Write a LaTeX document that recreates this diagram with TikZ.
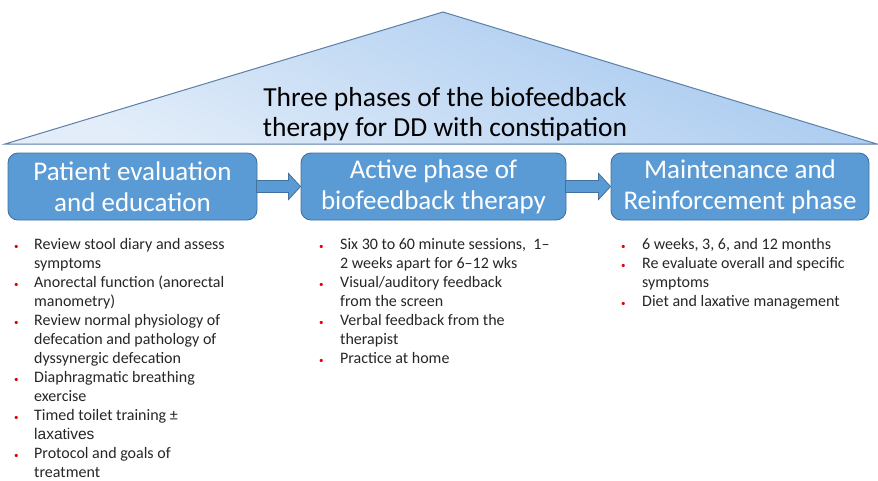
\documentclass[tikz,border=0pt]{standalone}
\usepackage{fontspec}
\setmainfont{Carlito}
\newfontfamily\arialfont{Liberation Sans}
\usetikzlibrary{calc}

\definecolor{phaseblue}{HTML}{5B9BD5}
\definecolor{phaseedge}{HTML}{41719C}
\definecolor{roofedge}{HTML}{5B7FA6}
\definecolor{rooftop}{HTML}{A4C7EF}
\definecolor{roofbottom}{HTML}{E2EDF9}
\definecolor{bulletred}{HTML}{E00000}
\definecolor{bodytext}{HTML}{262626}

\newcommand\bul{\textcolor{bulletred}{\small\textbullet}}

\tikzset{
  phase/.style={draw=phaseedge, line width=0.9pt, fill=phaseblue, rounded corners=10pt,
    minimum height=67pt, text=white, align=center,
    font=\fontsize{27}{31}\selectfont},
  points/.style={inner sep=0pt, anchor=base west, text=bodytext,
    font=\fontsize{16}{19}\selectfont},
  flow/.style={draw=phaseedge, line width=0.8pt, fill=phaseblue}
}

\begin{document}
\begin{tikzpicture}[x=1pt,y=-1pt]
  \useasboundingbox (0,0) rectangle (878,480);

  % Roof with the title
  \coordinate (roofL) at (5,144);
  \coordinate (roofT) at (443,12);
  \coordinate (roofR) at (877,144);
  \draw[draw=roofedge, line width=1pt, top color=rooftop, bottom color=roofbottom,
        shading angle=-25] (roofL) -- (roofT) -- (roofR) -- cycle;
  \node[align=center, font=\fontsize{27.5}{30}\selectfont] (title) at (445,114)
    {Three phases of the biofeedback\\therapy for DD with constipation};

  % The three phases
  \node[phase, minimum width=249pt] (evaluation) at (132.5,186.5)
    {Patient evaluation\\and education};
  \node[phase, minimum width=265pt] (active) at (433.5,186.5)
    {Active phase of\\biofeedback therapy};
  \node[phase, minimum width=258pt] (maintenance) at (740,186.5)
    {Maintenance and\\Reinforcement phase};

  % Block arrows between phases
  \foreach \a/\b in {evaluation/active, active/maintenance} {
    \draw[flow] ($(\a.east)+(-1,-6)$) -- ($(\b.west)+(-12,-6)$)
      -- ($(\b.west)+(-12,-13)$) -- (\b.west) -- ($(\b.west)+(-12,13)$)
      -- ($(\b.west)+(-12,6)$) -- ($(\a.east)+(-1,6)$) -- cycle;
  }

  % What happens in each phase
  \node[points] (evalpoints) at (14,249) {%
    \begin{tabular}[t]{@{}p{20pt}@{}l@{}}
      \bul & Review stool diary and assess\\
           & symptoms\\
      \bul & Anorectal function (anorectal\\
           & manometry)\\
      \bul & Review normal physiology of\\
           & defecation and pathology of\\
           & dyssynergic defecation\\
      \bul & Diaphragmatic breathing\\
           & exercise\\
      \bul & Timed toilet training \textpm\\
           & {\arialfont\fontsize{15.5}{19}\selectfont laxatives}\\
      \bul & Protocol and goals of\\
           & treatment
    \end{tabular}};
  \node[points] (activepoints) at (319,249) {%
    \begin{tabular}[t]{@{}p{21pt}@{}l@{}}
      \bul & Six 30 to 60 minute sessions,\ \ 1--\\
           & 2 weeks apart for 6--12 wks\\
      \bul & Visual/auditory feedback\\
           & from the screen\\
      \bul & Verbal feedback from the\\
           & therapist\\
      \bul & Practice at home
    \end{tabular}};
  \node[points] (maintpoints) at (621,249) {%
    \begin{tabular}[t]{@{}p{21pt}@{}l@{}}
      \bul & 6 weeks, 3, 6, and 12 months\\
      \bul & Re evaluate overall and specific\\
           & symptoms\\
      \bul & Diet and laxative management
    \end{tabular}};
\end{tikzpicture}
\end{document}
